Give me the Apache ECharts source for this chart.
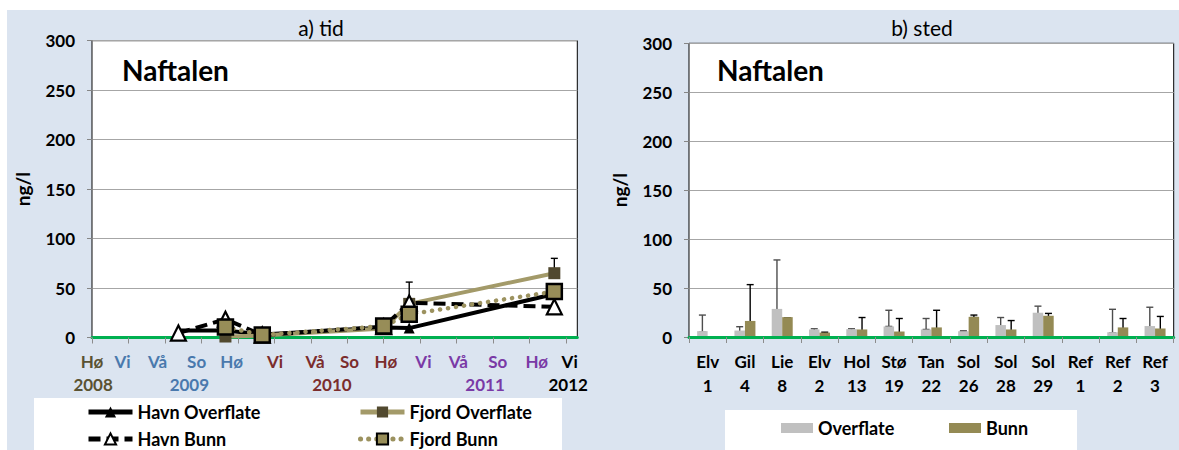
<!DOCTYPE html>
<html><head><meta charset="utf-8">
<script src="https://cdn.jsdelivr.net/npm/echarts@6/dist/echarts.min.js"></script>
<style>html,body{margin:0;padding:0;background:#fff}#c{width:1179px;height:450px}</style>
</head><body><div id="c"></div>
<script>
const FONT = 'Lato, "Noto Sans", sans-serif';

// ---------- a) tid ----------
const seasonLabels = ['Hø','Vi','Vå','So','Hø','Vi','Vå','So','Hø','Vi','Vå','So','Hø','Vi'];
const seasonPos = [0, 0.84, 1.8, 2.87, 3.83, 5.02, 6.12, 7.06, 8.06, 9.09, 10.05, 11.13, 12.2, 13.1];
const seasonGroup = [0,1,1,1,1,2,2,2,2,3,3,3,3,4];
const yearLabels = ['2008','2009','2010','2011','2012'];
const yearPos = [0.03, 2.67, 6.58, 10.78, 13.06];
const yearColors = ['#5a5232','#4a79ad','#7b2d2d','#7a3aa6','#000000'];
const tickPos = [0,1,2,3,4,5,6,7,8,9,10,11,12,13];
const sampleX = [2.37, 3.66, 4.67, 8.0, 8.70, 12.68];
const havnOverflate = [7, 7, 3, 10, 9.5, 44];
const havnBunn = [4.5, 18.5, 2.5, 11, 35, 31];
const fjordOverflate = [null, 1, 2, 9, 34, 65];
const fjordBunn = [null, 10.5, 2.5, 11.5, 23.5, 46.5];
const tidErrX = [8.70, 12.68];
const tidErrLow = [35, 65];
const tidErrHigh = [56, 80];

// ---------- b) sted ----------
const stations = ['Elv 1','Gil 4','Lie 8','Elv 2','Hol 13','Stø 19','Tan 22','Sol 26','Sol 28','Sol 29','Ref 1','Ref 2','Ref 3'];
const overflate     = [6,   6.6, 28.7, 7.7, 8,   10.8, 7.7,  5.9, 12.2, 24.8, null, 4.9,  11.2];
const overflateLow  = [5,   4.9, 20.3, 6,   6.6, 10.8, 7.7,  5.6, 3.5,  17.8, null, 4.2,  2.8];
const overflateHigh = [22.4,10.5,78.7, 8.4, 8.4, 27.3, 18.9, 6.3, 19.9, 31.5, null, 28.3, 30.4];
const bunn          = [null,16.4,20.3, 4.5, 7.7, 5.6,  9.8,  20.6, 7.7, 21.7, null, 9.8,  8.7];
const bunnLow       = [null,0,   9.8,  3.5, 2.4, 2.1,  2.1,  19.9, 2.1, 18.2, null, 7.7,  3.5];
const bunnHigh      = [null,53.5,19.6, 4.9, 19.9,18.9, 27.3, 22.4, 16.8,24.1, null, 18.9, 21];

const BAR_W = 10.5;

function pairs(xs, ys) { return xs.map((x, i) => [x, ys[i]]).filter(p => p[1] != null); }
function findIdx(arr, v) { return arr.findIndex(p => Math.abs(p - v) < 1e-6); }

function errRender(offset, color, lowCap) {
  return function (params, api) {
    const x = api.value(0), lo = api.value(1), hi = api.value(2);
    const pLo = api.coord([x, lo]), pHi = api.coord([x, hi]);
    const cx = pLo[0] + offset, hw = 3.5;
    const st = { stroke: color, lineWidth: 1.4 };
    const ch = [
      { type: 'line', shape: { x1: cx, y1: pHi[1], x2: cx, y2: pLo[1] }, style: st },
      { type: 'line', shape: { x1: cx - hw, y1: pHi[1], x2: cx + hw, y2: pHi[1] }, style: st }
    ];
    if (lowCap) ch.push({ type: 'line', shape: { x1: cx - hw, y1: pLo[1], x2: cx + hw, y2: pLo[1] }, style: st });
    return { type: 'group', children: ch };
  };
}

const rich = {};
yearColors.forEach((c, i) => { rich['s' + i] = { color: c, fontSize: 17, fontWeight: 'bold', fontFamily: FONT }; });

const yAxisCommon = {
  type: 'value', min: 0, max: 300, interval: 50,
  name: 'ng/l', nameLocation: 'middle', nameGap: 60,
  nameTextStyle: { fontSize: 19, fontWeight: 'bold', color: '#000', fontFamily: FONT },
  axisLine: { show: true, lineStyle: { color: '#868686', width: 1 } },
  axisTick: { show: true, length: 5, lineStyle: { color: '#868686' } },
  axisLabel: { fontSize: 17, fontWeight: 'bold', color: '#000', margin: 17, fontFamily: FONT },
  splitLine: { show: true, lineStyle: { color: '#a6a6a6', width: 1 } }
};

const legendCommon = {
  padding: 0, itemWidth: 44, itemHeight: 14, selectedMode: false,
  lineStyle: { width: 5 },
  textStyle: { fontFamily: FONT, fontSize: 18, fontWeight: 'bold', color: '#000' }
};

const chart = echarts.init(document.getElementById('c'), null, { renderer: 'svg' });
chart.setOption({
  animation: false,
  textStyle: { fontFamily: FONT },
  graphic: [
    { type: 'rect', z: -10, shape: { x: 7, y: 10, width: 1172, height: 440 }, style: { fill: '#dbe4f0' } },
    { type: 'rect', z: -9, shape: { x: 34, y: 398, width: 528, height: 52 }, style: { fill: '#ffffff' } },
    { type: 'rect', z: -9, shape: { x: 725, y: 410, width: 352, height: 40 }, style: { fill: '#ffffff' } },
    { type: 'text', x: 321, y: 27, style: { text: 'a) tid', font: 'normal 21px ' + FONT, fill: '#000', textAlign: 'center', textVerticalAlign: 'middle', align: 'center', verticalAlign: 'middle' } },
    { type: 'text', x: 922, y: 27, style: { text: 'b) sted', font: 'normal 21px ' + FONT, fill: '#000', textAlign: 'center', textVerticalAlign: 'middle', align: 'center', verticalAlign: 'middle' } },
    { type: 'text', x: 122, y: 70, style: { text: 'Naftalen', font: 'bold 28px ' + FONT, fill: '#000', textAlign: 'left', textVerticalAlign: 'middle', align: 'left', verticalAlign: 'middle' } },
    { type: 'text', x: 717, y: 70, style: { text: 'Naftalen', font: 'bold 28px ' + FONT, fill: '#000', textAlign: 'left', textVerticalAlign: 'middle', align: 'left', verticalAlign: 'middle' } }
  ],
  grid: [
    { left: 92, top: 40.7, width: 485.3, height: 296.8, show: true, backgroundColor: '#fff', borderColor: '#000', borderWidth: 1 },
    { left: 689, top: 43.3, width: 484.7, height: 293.7, show: true, backgroundColor: '#fff', borderColor: '#000', borderWidth: 1 }
  ],
  legend: [
    Object.assign({ data: ['Havn Overflate'], left: 86, top: 403 }, legendCommon),
    Object.assign({ data: ['Havn Bunn'], left: 86, top: 430 }, legendCommon),
    Object.assign({ data: ['Fjord Overflate'], left: 358, top: 403 }, legendCommon),
    Object.assign({ data: ['Fjord Bunn'], left: 358, top: 430 }, legendCommon),
    Object.assign({}, legendCommon, { data: ['Overflate'], left: 781, top: 419, icon: 'rect', itemWidth: 32, itemHeight: 10 }),
    Object.assign({}, legendCommon, { data: ['Bunn'], left: 949, top: 419, icon: 'rect', itemWidth: 32, itemHeight: 10 })
  ],
  xAxis: [
    {
      type: 'value', gridIndex: 0, min: 0, max: 13.31,
      axisLine: { show: true, onZero: false, lineStyle: { color: '#00b050', width: 3 } },
      axisTick: { show: true, customValues: tickPos, length: 6, lineStyle: { color: '#8c8c8c', width: 1 } },
      axisLabel: {
        customValues: seasonPos, margin: 15, showMinLabel: true, showMaxLabel: true,
        formatter: v => { const i = findIdx(seasonPos, v); return i < 0 ? '' : '{s' + seasonGroup[i] + '|' + seasonLabels[i] + '}'; },
        rich: rich
      },
      splitLine: { show: false }
    },
    {
      type: 'value', gridIndex: 0, min: 0, max: 13.31, position: 'bottom',
      axisLine: { show: false }, axisTick: { show: false }, splitLine: { show: false },
      axisLabel: {
        customValues: yearPos, margin: 38, showMinLabel: true, showMaxLabel: true,
        formatter: v => { const i = findIdx(yearPos, v); return i < 0 ? '' : '{s' + i + '|' + yearLabels[i] + '}'; },
        rich: rich
      }
    },
    {
      type: 'category', gridIndex: 1, data: stations, z: 5,
      axisLine: { show: true, lineStyle: { color: '#00b050', width: 3 } },
      axisTick: { show: true, length: 6, lineStyle: { color: '#8c8c8c', width: 1 } },
      axisLabel: { formatter: s => s.replace(' ', '\n'), fontSize: 17, fontWeight: 'bold', color: '#000', lineHeight: 24, margin: 12, interval: 0, fontFamily: FONT }
    }
  ],
  yAxis: [
    Object.assign({ gridIndex: 0 }, yAxisCommon),
    Object.assign({ gridIndex: 1 }, yAxisCommon)
  ],
  series: [
    { type: 'line', name: 'Havn Overflate', xAxisIndex: 0, yAxisIndex: 0, data: pairs(sampleX, havnOverflate),
      symbol: 'triangle', symbolSize: 11, itemStyle: { color: '#000' }, lineStyle: { color: '#000', width: 4 } },
    { type: 'line', name: 'Fjord Overflate', xAxisIndex: 0, yAxisIndex: 0, data: pairs(sampleX, fjordOverflate),
      symbol: 'rect', symbolSize: 12, itemStyle: { color: '#51492f' }, lineStyle: { color: '#a39a69', width: 4 } },
    { type: 'line', name: 'Havn Bunn', xAxisIndex: 0, yAxisIndex: 0, data: pairs(sampleX, havnBunn),
      symbol: 'triangle', symbolSize: 15, itemStyle: { color: '#fff', borderColor: '#000', borderWidth: 2.2 },
      lineStyle: { color: '#000', width: 4, type: [12, 6] } },
    { type: 'line', name: 'Fjord Bunn', xAxisIndex: 0, yAxisIndex: 0, data: pairs(sampleX, fjordBunn),
      symbol: 'rect', symbolSize: 15, itemStyle: { color: '#978d58', borderColor: '#000', borderWidth: 2.5 },
      lineStyle: { color: '#9c925f', width: 4.5, type: [0.1, 8], cap: 'round' } },
    { type: 'custom', name: 'errTid', xAxisIndex: 0, yAxisIndex: 0,
      data: tidErrX.map((x, i) => [x, tidErrLow[i], tidErrHigh[i]]),
      encode: { x: 0, y: [1, 2] }, renderItem: errRender(0, '#000', false) },
    { type: 'bar', name: 'Overflate', xAxisIndex: 2, yAxisIndex: 1, data: overflate,
      barWidth: BAR_W, barGap: '0%', itemStyle: { color: '#c0c0c0' } },
    { type: 'bar', name: 'Bunn', xAxisIndex: 2, yAxisIndex: 1, data: bunn,
      barWidth: BAR_W, barGap: '0%', itemStyle: { color: '#948a54' } },
    { type: 'custom', name: 'errOverflate', xAxisIndex: 2, yAxisIndex: 1,
      data: stations.map((s, i) => [i, overflateLow[i], overflateHigh[i]]).filter(d => d[1] != null),
      encode: { x: 0, y: [1, 2] }, renderItem: errRender(-BAR_W / 2, '#4d4d4d', true) },
    { type: 'custom', name: 'errBunn', xAxisIndex: 2, yAxisIndex: 1,
      data: stations.map((s, i) => [i, bunnLow[i], bunnHigh[i]]).filter(d => d[1] != null),
      encode: { x: 0, y: [1, 2] }, renderItem: errRender(BAR_W / 2, '#000', true) }
  ]
});
</script>
</body></html>
